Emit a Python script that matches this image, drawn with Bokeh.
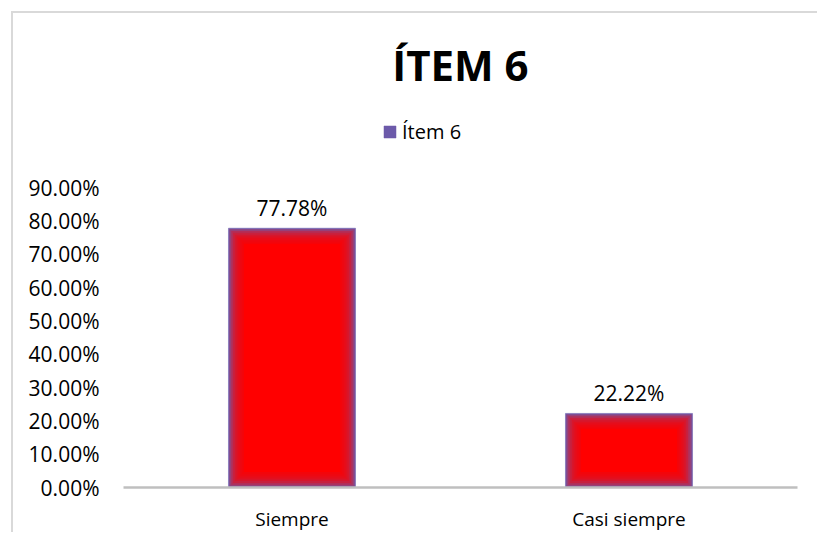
from bokeh.plotting import figure
from bokeh.models import (Label, Legend, LegendItem, NumeralTickFormatter, FixedTicker,
                          Range1d, FactorRange, ColumnDataSource)
from bokeh.embed import file_html
from bokeh.resources import INLINE

categories = ["Siempre", "Casi siempre"]
values = [0.7778, 0.2222]
labels = ["77.78%", "22.22%"]
series_name = "Ítem 6"
title_text = "ÍTEM 6"
y_ticks = [0.0, 0.1, 0.2, 0.3, 0.4, 0.5, 0.6, 0.7, 0.8, 0.9]

FONT = "Open Sans"
OX, OY = 13, 13          # canvas origin on the page (after border)
W, H = 817 - OX + 10, 537 - OY - 3
FRAME_L, FRAME_R, FRAME_B = 123 - OX, 797 - OX, 487 - OY
PX_Y = 0.9 / 300.0       # data units per pixel (vertical)
Y_END = FRAME_B * PX_Y   # frame spans the whole upper canvas

p = figure(x_range=FactorRange(*categories), y_range=Range1d(0, Y_END),
           width=W, height=H, output_backend="svg", toolbar_location=None,
           min_border_left=FRAME_L, min_border_right=W - FRAME_R, min_border_top=0,
           min_border_bottom=H - FRAME_B)
p.styles = {"margin-left": "11px", "margin-top": "11px",
            "border-left": "2px solid #D9D9D9", "border-top": "2px solid #D9D9D9"}
p.background_fill_color = "white"
p.border_fill_color = "white"
p.outline_line_color = None
p.xgrid.grid_line_color = None
p.ygrid.grid_line_color = None

src = ColumnDataSource(dict(x=categories, top=values, lab=labels))

bar_w = 0.377
px_x = 1.0 / 337.0
EDGE = "#6C5AAA"

# purple base of each bar (also the legend's swatch)
base = p.vbar(x="x", top="top", bottom=0, width=bar_w, source=src,
              fill_color=EDGE, line_color=EDGE, line_alpha=0.5, line_width=1)

# red body fading in from the edges
n = 8
step = 1.8
for i in range(n):
    inset = 1.0 + i * step
    tops = [v - inset * PX_Y for v in values]
    p.vbar(x=categories, top=tops, bottom=inset * PX_Y, width=bar_w - 2 * inset * px_x,
           fill_color="#FF0000", fill_alpha=0.28, line_color=None)
inset = 1.0 + n * step
p.vbar(x=categories, top=[v - inset * PX_Y for v in values], bottom=inset * PX_Y,
       width=bar_w - 2 * inset * px_x, fill_color="#FF0000", line_color=None)

# data labels
p.text(x="x", y="top", text="lab", source=src, text_align="center",
       text_baseline="alphabetic", y_offset=-20, text_font={"value": FONT},
       text_font_size="21px", text_color="#000000")

# axes
p.yaxis.ticker = FixedTicker(ticks=y_ticks)
p.yaxis.formatter = NumeralTickFormatter(format="0.00%")
p.yaxis.axis_line_color = None
p.yaxis.major_tick_line_color = None
p.yaxis.minor_tick_line_color = None
p.yaxis.major_label_standoff = 18
p.yaxis.major_label_text_font = FONT
p.yaxis.major_label_text_font_size = "21px"
p.yaxis.major_label_text_color = "#000000"

p.xaxis.axis_line_color = "#BFBFBF"
p.xaxis.axis_line_width = 2.5
p.xaxis.major_tick_line_color = None
p.xaxis.minor_tick_line_color = None
p.xaxis.major_label_standoff = 12
p.xaxis.major_label_text_font = FONT
p.xaxis.major_label_text_font_size = "19px"
p.xaxis.major_label_text_color = "#000000"

# legend
legend = Legend(items=[LegendItem(label=series_name, renderers=[base])],
                location=(382 - 123, 342), orientation="horizontal",
                border_line_color=None, background_fill_alpha=0,
                padding=0, margin=0, glyph_width=15, glyph_height=15,
                label_standoff=5, label_text_font=FONT, label_text_font_size="20px",
                label_text_color="#000000")
p.add_layout(legend, "center")

# title (x=1.0 is the centre of the categorical range)
p.add_layout(Label(x=1.0, y=(487 - 63.5) * PX_Y, text=title_text,
                   text_align="center", text_baseline="middle", text_font=FONT,
                   text_font_size="42px", text_font_style="bold", text_color="#000000"))

open("out.html", "w").write(file_html(p, INLINE))
